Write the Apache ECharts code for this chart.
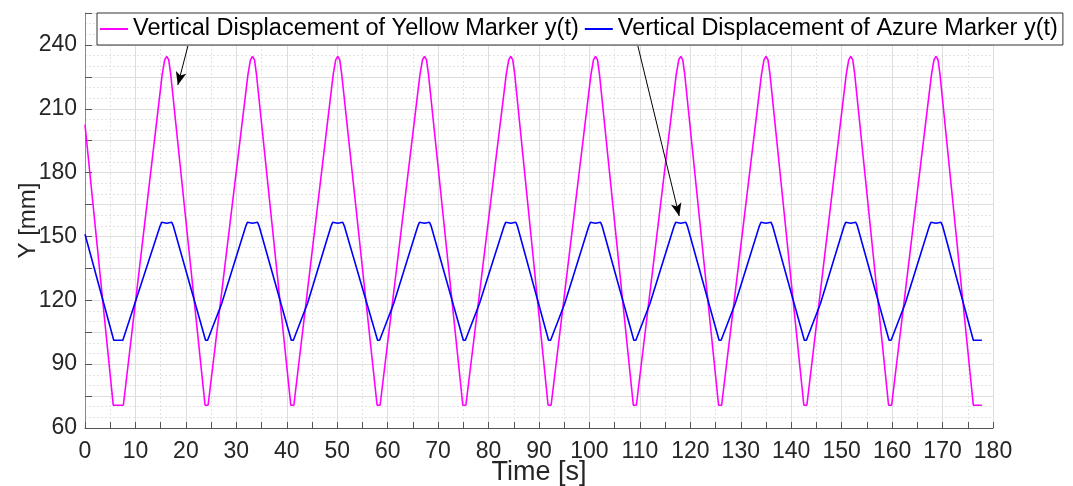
<!DOCTYPE html>
<html>
<head>
<meta charset="utf-8">
<script src="https://cdn.jsdelivr.net/npm/echarts@6/dist/echarts.min.js"></script>
<style>
  html, body { margin: 0; padding: 0; background: #fff; }
  #chart { width: 1073px; height: 486px; }
</style>
</head>
<body>
<div id="chart"></div>
<script>
// series names
const seriesNames = [
  'Vertical Displacement of Yellow Marker y(t)',
  'Vertical Displacement of Azure Marker y(t)'
]

// [time s, Y mm]
const yellowPoints = [
  [0, 202.5], [5.6, 70.7], [7.6, 70.7],
  [15.3, 226], [15.8, 233], [16.2, 234.6], [16.6, 233], [17.0, 226],
  [23.8, 70.7], [24.4, 70.7],
  [32.3, 226], [32.8, 233], [33.2, 234.6], [33.6, 233], [34.0, 226],
  [40.8, 70.7], [41.4, 70.7],
  [49.2, 226], [49.7, 233], [50.1, 234.6], [50.5, 233], [50.9, 226],
  [57.9, 70.7], [58.5, 70.7],
  [66.4, 226], [66.9, 233], [67.3, 234.6], [67.7, 233], [68.1, 226],
  [74.9, 70.7], [75.5, 70.7],
  [83.5, 226], [84.0, 233], [84.4, 234.6], [84.8, 233], [85.2, 226],
  [91.8, 70.7], [92.4, 70.7],
  [100.3, 226], [100.8, 233], [101.2, 234.6], [101.6, 233], [102.0, 226],
  [108.7, 70.7], [109.3, 70.7],
  [117.2, 226], [117.7, 233], [118.1, 234.6], [118.5, 233], [118.9, 226],
  [125.6, 70.7], [126.2, 70.7],
  [134.1, 226], [134.6, 233], [135.0, 234.6], [135.4, 233], [135.8, 226],
  [142.5, 70.7], [143.1, 70.7],
  [150.9, 226], [151.4, 233], [151.8, 234.6], [152.2, 233], [152.6, 226],
  [159.3, 70.7], [159.9, 70.7],
  [167.8, 226], [168.3, 233], [168.7, 234.6], [169.1, 233], [169.5, 226],
  [176.1, 70.7], [177.8, 70.7]
]

const azurePoints = [
  [0, 151], [5.7, 101.2], [7.5, 101.2],
  [14.9, 155], [15.2, 156.7], [16.2, 156.2], [17.2, 156.7], [17.5, 155],
  [23.9, 101.2], [24.3, 101.2], [27.1, 118.5],
  [31.9, 155], [32.2, 156.7], [33.2, 156.2], [34.2, 156.7], [34.5, 155],
  [40.9, 101.2], [41.3, 101.2], [44.1, 118.5],
  [48.8, 155], [49.1, 156.7], [50.1, 156.2], [51.1, 156.7], [51.4, 155],
  [58.0, 101.2], [58.4, 101.2], [61.2, 118.5],
  [66.0, 155], [66.3, 156.7], [67.3, 156.2], [68.3, 156.7], [68.6, 155],
  [75.0, 101.2], [75.4, 101.2], [78.2, 118.5],
  [83.1, 155], [83.4, 156.7], [84.4, 156.2], [85.4, 156.7], [85.7, 155],
  [91.9, 101.2], [92.3, 101.2], [95.1, 118.5],
  [99.9, 155], [100.2, 156.7], [101.2, 156.2], [102.2, 156.7], [102.5, 155],
  [108.8, 101.2], [109.2, 101.2], [112.0, 118.5],
  [116.8, 155], [117.1, 156.7], [118.1, 156.2], [119.1, 156.7], [119.4, 155],
  [125.7, 101.2], [126.1, 101.2], [128.9, 118.5],
  [133.7, 155], [134.0, 156.7], [135.0, 156.2], [136.0, 156.7], [136.3, 155],
  [142.6, 101.2], [143.0, 101.2], [145.8, 118.5],
  [150.5, 155], [150.8, 156.7], [151.8, 156.2], [152.8, 156.7], [153.1, 155],
  [159.4, 101.2], [159.8, 101.2], [162.6, 118.5],
  [167.4, 155], [167.7, 156.7], [168.7, 156.2], [169.7, 156.7], [170.0, 155],
  [176.1, 101.2], [177.8, 101.2]
]

// annotation arrows: [tail, head] in data coords
const yellowArrow = [[20.4, 239.5], [18.4, 221.2]]
const azureArrow = [[109.6, 239.5], [117.8, 159.6]]

const xRange = [0, 180]
const yRange = [60, 255]

const FONT = '"Liberation Sans", Arial, sans-serif'

const chart = echarts.init(document.getElementById('chart'))

const arrowLine = (pts) => ({
  silent: true,
  symbol: ['none', 'arrow'],
  symbolSize: [8, 13],
  label: { show: false },
  lineStyle: { color: '#000', width: 1, type: 'solid' },
  emphasis: { disabled: true },
  data: [[{ coord: pts[0] }, { coord: pts[1] }]]
})

chart.setOption({
  animation: false,
  grid: { left: 85, right: 80, top: 13, bottom: 58, containLabel: false, outerBoundsMode: 'none' },
  legend: {
    left: 97,
    top: 13,
    padding: [4, 5, 4, 3],
    itemGap: 6,
    itemWidth: 28,
    itemHeight: 2,
    icon: 'rect',
    backgroundColor: '#fff',
    borderColor: '#333',
    borderWidth: 1,
    textStyle: { fontFamily: FONT, fontSize: 23.5, color: '#000' },
    data: seriesNames
  },
  xAxis: {
    type: 'value',
    min: xRange[0],
    max: xRange[1],
    interval: 10,
    name: 'Time [s]',
    nameLocation: 'middle',
    nameGap: 31,
    nameMoveOverlap: false,
    nameTextStyle: { fontFamily: FONT, fontSize: 27, color: '#262626' },
    axisLine: { show: true, onZero: false, lineStyle: { color: '#555', width: 1 } },
    axisTick: { show: true, inside: true, length: 6, lineStyle: { color: '#555' } },
    minorTick: { show: true, splitNumber: 2, length: 6, lineStyle: { color: '#555' } },
    axisLabel: { fontFamily: FONT, fontSize: 23, color: '#262626', margin: 12 },
    splitLine: { show: true, lineStyle: { color: '#dedede', width: 1 } },
    minorSplitLine: { show: true, lineStyle: { color: '#e4e4e4', width: 1, type: [2, 2] } }
  },
  yAxis: {
    type: 'value',
    min: yRange[0],
    max: yRange[1],
    interval: 15,
    name: 'Y [mm]',
    nameLocation: 'middle',
    nameGap: 45,
    nameMoveOverlap: false,
    nameTextStyle: { fontFamily: FONT, fontSize: 24, color: '#262626' },
    axisLine: { show: true, onZero: false, lineStyle: { color: '#8a8a8a', width: 1 } },
    axisTick: { show: true, inside: true, length: 7, lineStyle: { color: '#555' } },
    minorTick: { show: false, splitNumber: 3 },
    axisLabel: {
      fontFamily: FONT, fontSize: 23, color: '#262626', margin: 8,
      formatter: (v) => (v % 30 === 0 ? String(v) : '')
    },
    splitLine: { show: true, lineStyle: { color: '#dedede', width: 1 } },
    minorSplitLine: { show: true, lineStyle: { color: '#e4e4e4', width: 1, type: [2, 2] } }
  },
  series: [
    {
      name: seriesNames[0],
      type: 'line',
      symbol: 'none',
      data: yellowPoints,
      lineStyle: { color: '#ff00ff', width: 1.6 },
      itemStyle: { color: '#ff00ff' },
      markLine: arrowLine(yellowArrow)
    },
    {
      name: seriesNames[1],
      type: 'line',
      symbol: 'none',
      data: azurePoints,
      lineStyle: { color: '#0000ff', width: 1.6 },
      itemStyle: { color: '#0000ff' },
      markLine: arrowLine(azureArrow)
    }
  ]
})
</script>
</body>
</html>
